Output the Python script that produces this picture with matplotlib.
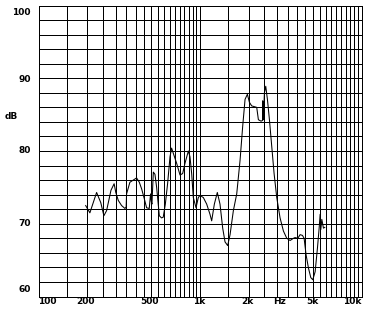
import numpy as np
import matplotlib
matplotlib.use("Agg")
import matplotlib.pyplot as plt

# ---- data ----
freq_hz = [196, 208, 229, 243, 254, 264, 281, 294, 301, 312, 327, 343, 349, 351,
           368, 386, 405, 421, 435, 450, 467, 485, 494, 500, 504, 514, 526, 539,
           560, 578, 592, 610, 630, 652, 667, 683, 717, 752, 781, 807, 847, 867,
           888, 909, 945, 976, 1000, 1049, 1100, 1153, 1181, 1227, 1280, 1330,
           1382, 1429, 1484, 1535, 1609, 1688, 1770, 1838, 1901, 1965, 2022, 2090,
           2245, 2299, 2388, 2440, 2446, 2460, 2470, 2505, 2553, 2615, 2691, 2782,
           2876, 2987, 3132, 3285, 3445, 3614, 3789, 3880, 4031, 4168, 4309, 4412,
           4540, 4695, 4853, 4993, 5163, 5338, 5467, 5545, 5597, 5678, 5814, 5925]
level_db = [72.5, 71.5, 74.3, 72.9, 71.1, 71.8, 74.6, 75.5, 74.3, 73.2, 72.5, 72.1, 72.3, 74.1,
            75.7, 76.0, 76.3, 75.7, 74.8, 73.6, 72.2, 72.1, 74.1, 73.0, 72.7, 77.1, 76.8, 75.0,
            71.1, 70.8, 70.9, 72.7, 75.5, 79.2, 80.4, 79.7, 78.3, 76.7, 76.9, 78.3, 80.0, 79.2,
            76.9, 73.6, 72.2, 73.6, 73.9, 73.6, 72.7, 71.3, 70.4, 72.7, 74.3, 72.7,
            69.4, 67.5, 67.0, 68.5, 71.8, 74.1, 78.7, 83.4, 87.1, 87.8, 86.7, 86.2,
            86.0, 84.3, 84.1, 84.2, 86.9, 86.0, 84.3, 88.0, 88.9, 87.1, 84.3, 80.6,
            76.9, 73.6, 70.8, 69.0, 68.0, 67.7, 68.0, 68.1, 68.0, 68.5, 68.4, 68.0,
            65.7, 63.9, 62.6, 62.3, 63.4, 66.7, 69.4, 71.3, 69.2, 70.6, 69.4, 69.5]

x_grid = list(range(100, 1000, 50)) + list(range(1000, 10001, 500))
y_grid = list(range(60, 101, 2))
x_labels = ["100", "200", "500", "1k", "2k", "Hz", "5k", "10k"]
x_label_px = [47.5, 85.5, 149.7, 199, 247.3, 279.7, 312, 351.8]
y_labels = ["100", "90", "80", "70", "60"]
y_label_px = [12.7, 80, 150.7, 223, 290]

W, H = 372, 312
fig = plt.figure(figsize=(W / 100, H / 100), dpi=100)
ax = fig.add_axes([38.5 / W, 1 - 296.5 / H, (361.5 - 38.5) / W, (296.5 - 5.5) / H])
ax.set_xscale("log")
ax.set_xlim(100, 10000)
ax.set_ylim(60, 100)

for f in x_grid:
    ax.axvline(f, color="black", lw=0.6, antialiased=False, zorder=1)
for d in y_grid:
    ax.axhline(d, color="black", lw=0.6, antialiased=False, zorder=1)

ax.plot(freq_hz, level_db, color="black", lw=0.75, zorder=3)

ax.set_xticks([])
ax.set_yticks([])
ax.minorticks_off()
for s in ax.spines.values():
    s.set_linewidth(0.7)
    s.set_color("black")
    s.set_antialiased(False)

fp = dict(fontsize=6.5, fontweight="bold", color="black", family="DejaVu Sans")
for lab, px in zip(x_labels, x_label_px):
    fig.text(px / W, 1 - 301.5 / H, lab, ha="center", va="center", **fp)
for lab, py in zip(y_labels, y_label_px):
    fig.text(31 / W, 1 - py / H, lab, ha="right", va="center", **fp)
fig.text(11.3 / W, 1 - 116.7 / H, "dB", ha="center", va="center", **fp)

fig.savefig("out.png", dpi=100, facecolor="white")
